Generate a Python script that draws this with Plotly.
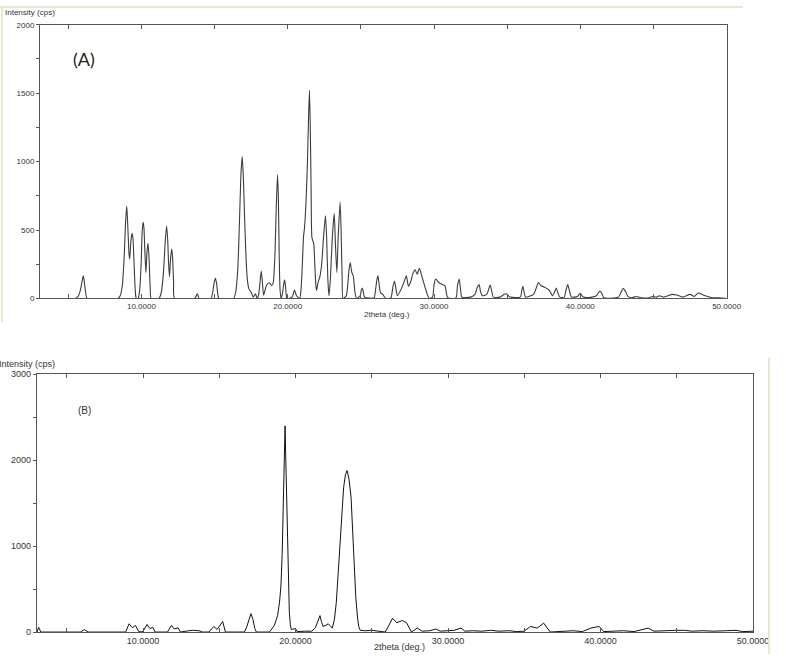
"""XRD patterns (A) and (B) — Plotly re-draw of two diffractometer screenshots."""

import plotly.graph_objects as go

W, H = 787, 659

# ---- pattern (A) : 2theta (deg.) / intensity (cps)
a_two_theta = [
    3.1, 5.5, 5.7, 5.85, 5.95, 6.03, 6.1, 6.18, 6.3,
    8.4, 8.55, 8.7, 8.82, 8.92, 9.0, 9.08, 9.15, 9.2, 9.28, 9.36, 9.42, 9.5, 9.58, 9.65,
    9.78, 9.88, 9.98, 10.05, 10.11, 10.17, 10.24, 10.31, 10.38, 10.45, 10.52, 10.6, 10.67,
    11.2, 11.35, 11.5, 11.62, 11.72, 11.8, 11.86, 11.92, 12.0, 12.07, 12.13, 12.2, 12.27,
    13.65, 13.75, 13.81, 13.88, 13.95, 14.75, 14.88, 14.98, 15.06, 15.14, 15.22, 15.3,
    16.3, 16.45, 16.58, 16.7, 16.8, 16.89, 16.97, 17.05, 17.15, 17.25, 17.35, 17.5, 17.65,
    17.8, 17.9, 18.0, 18.1, 18.19, 18.27, 18.35, 18.45, 18.55, 18.74, 18.9, 19.0, 19.12,
    19.2, 19.3, 19.36, 19.42, 19.48, 19.55, 19.65, 19.72, 19.79, 19.86, 19.95, 20.3, 20.46,
    20.6, 20.82, 20.92, 21.0, 21.08, 21.15, 21.25, 21.35, 21.43, 21.49, 21.55, 21.6, 21.65,
    21.72, 21.78, 21.85, 21.92, 21.97, 22.08, 22.2, 22.32, 22.45, 22.58, 22.66, 22.74, 22.82,
    22.92, 23.05, 23.18, 23.26, 23.36, 23.45, 23.58, 23.66, 23.72, 23.78, 24.0, 24.12, 24.2,
    24.28, 24.38, 24.48, 24.58, 24.7, 24.95, 25.03, 25.1, 25.18, 25.25, 25.9, 26.0, 26.1,
    26.17, 26.25, 26.35, 26.5, 26.7, 27.05, 27.18, 27.3, 27.4, 27.5, 27.77, 27.95, 28.11,
    28.25, 28.4, 28.55, 28.71, 28.85, 29.0, 29.2, 29.45, 29.67, 29.9, 30.0, 30.11, 30.33,
    30.51, 30.74, 30.94, 31.5, 31.6, 31.72, 31.82, 31.9, 32.5, 32.8, 32.95, 33.08, 33.18,
    33.3, 33.6, 33.84, 33.95, 34.05, 34.5, 34.8, 34.95, 35.2, 35.9, 36.0, 36.07, 36.15,
    36.25, 36.8, 37.0, 37.14, 37.3, 37.58, 37.9, 38.1, 38.25, 38.36, 38.47, 38.6, 38.9,
    39.02, 39.14, 39.27, 39.4, 39.8, 39.99, 40.2, 40.8, 41.1, 41.25, 41.37, 41.5, 41.6,
    42.6, 42.8, 42.94, 43.1, 43.25, 43.5, 43.83, 44.2, 44.7, 44.95, 45.2, 45.4, 45.7, 46.0,
    46.28, 46.6, 47.0, 47.5, 47.8, 48.06, 48.4, 48.7, 49.0, 49.5, 50.0,
]
a_intensity = [
    0, 0, 20, 70, 130, 165, 120, 50, 0,
    0, 20, 100, 300, 560, 676, 500, 330, 288, 420, 477, 440, 250, 60, 0,
    0, 60, 250, 480, 556, 520, 330, 190, 340, 403, 300, 80, 0,
    0, 40, 180, 400, 530, 420, 250, 160, 300, 362, 300, 120, 0,
    0, 20, 35, 20, 0, 0, 50, 120, 148, 110, 30, 0,
    0, 50, 200, 550, 900, 1036, 880, 600, 300, 130, 70, 45, 10,
    35, 0, 20, 110, 200, 120, 25, 60, 95, 115, 95, 110, 300,
    600, 904, 750, 300, 60, 0, 40, 100, 137, 80, 0, 10, 62,
    20, 0, 80, 250, 450, 520, 700, 1000, 1350, 1520, 1200, 800, 450,
    420, 400, 250, 100, 58, 120, 160, 250, 450, 604, 450, 150, 20,
    150, 450, 621, 400, 190, 450, 705, 450, 150, 0, 20, 120, 220,
    261, 190, 165, 60, 0, 20, 60, 77, 40, 10, 5, 60, 140,
    165, 100, 40, 30, 0, 5, 80, 128, 70, 20, 72, 120, 165,
    90, 120, 180, 209, 177, 221, 150, 60, 0, 10, 100, 142, 117,
    105, 94, 5, 5, 90, 142, 60, 10, 10, 30, 80, 101, 50,
    20, 30, 98, 50, 10, 10, 30, 34, 10, 10, 60, 89, 50,
    10, 30, 80, 117, 95, 81, 58, 20, 50, 77, 40, 10, 10,
    60, 101, 50, 10, 15, 38, 10, 10, 20, 45, 53, 30, 5,
    10, 50, 74, 50, 15, 5, 15, 5, 5, 15, 10, 20, 10, 20,
    30, 25, 10, 30, 15, 40, 25, 15, 5, 5, 0,
]

# ---- pattern (B)
b_two_theta = [
    3.05, 3.15, 3.3, 5.9, 6.15, 6.4, 8.86, 9.08, 9.3, 9.5, 9.7, 9.87, 10.0, 10.26, 10.45,
    10.64, 10.79, 11.6, 11.86, 12.05, 12.29, 12.45, 13.0, 13.3, 13.67, 13.9, 14.32, 14.64,
    14.85, 15.22, 15.4, 16.64, 16.8, 16.95, 17.07, 17.2, 17.33, 17.43, 18.29, 18.61, 18.82,
    18.95, 19.04, 19.12, 19.2, 19.27, 19.31, 19.36, 19.42, 19.46, 19.52, 19.59, 19.66,
    19.72, 20.0, 20.1, 20.6, 21.07, 21.3, 21.45, 21.6, 21.7, 21.8, 22.0, 22.14, 22.28,
    22.41, 22.55, 22.67, 22.8, 22.93, 23.05, 23.15, 23.27, 23.38, 23.5, 23.64, 23.75,
    23.85, 23.95, 24.07, 24.15, 24.24, 24.6, 25.0, 25.4, 25.88, 26.1, 26.36, 26.63, 27.0,
    27.28, 27.6, 27.98, 28.3, 28.8, 29.2, 29.5, 30.0, 30.4, 30.85, 31.1, 31.6, 32.2, 32.8,
    33.3, 34.0, 34.5, 34.98, 35.41, 35.84, 36.27, 36.7, 37.4, 38.2, 38.8, 39.37, 39.91,
    40.2, 40.8, 41.5, 42.2, 43.12, 43.5, 44.0, 44.94, 45.5, 46.0, 46.7, 47.4, 48.2, 48.89,
    49.3, 50.0,
]
b_intensity = [
    0, 55, 0, 0, 27, 0, 0, 96, 50, 77, 10, 0, 10, 88, 40,
    54, 0, 0, 77, 35, 50, 0, 15, 20, 15, 0, 0, 65,
    30, 122, 0, 0, 60, 160, 214, 150, 40, 0, 0, 77, 191,
    350, 535, 900, 1600, 2200, 2397, 2000, 1500, 1107, 600, 229, 80,
    30, 40, 5, 10, 10, 50, 120, 191, 120, 65, 80, 96, 70,
    46, 150, 343, 700, 1107, 1450, 1680, 1830, 1878, 1780, 1565, 1150,
    726, 400, 153, 60, 20, 15, 20, 10, 0, 70, 160, 108, 134,
    108, 0, 46, 10, 15, 35, 10, 15, 20, 46, 10, 15, 10, 20,
    10, 15, 5, 10, 65, 46, 103, 0, 10, 15, 5, 46, 65,
    5, 10, 15, 5, 46, 10, 15, 20, 20, 10, 15, 10, 15, 20,
    5, 10,
]

x_ticks = [5, 10, 15, 20, 25, 30, 35, 40, 45, 50]
x_tick_text = ["" if v % 10 else f"{v:.4f}" for v in x_ticks]
a_y_ticks = list(range(0, 2001, 250))
a_y_tick_text = [str(v) if v % 500 == 0 else "" for v in a_y_ticks]
b_y_ticks = list(range(0, 3001, 500))
b_y_tick_text = [str(v) if v % 1000 == 0 else "" for v in b_y_ticks]

AXIS_COLOR = "#555555"
FONT = "Liberation Sans, Arial, sans-serif"


def px_x(px):
    return px / W


def px_y(py):
    return 1 - py / H


def x_axis(domain, anchor, rng, size):
    return dict(
        domain=domain, anchor=anchor, range=rng, tickvals=x_ticks, ticktext=x_tick_text,
        ticks="inside", ticklen=4, tickcolor=AXIS_COLOR, mirror="ticks",
        showline=True, linecolor=AXIS_COLOR, linewidth=1.3, showgrid=False, zeroline=False,
        tickfont=dict(size=size, color="#333333", family=FONT),
    )


def y_axis(domain, anchor, rng, vals, text, size):
    return dict(
        domain=domain, anchor=anchor, range=rng, tickvals=vals, ticktext=text,
        ticks="outside", ticklen=3, tickcolor=AXIS_COLOR, mirror=True,
        showline=True, linecolor=AXIS_COLOR, linewidth=1.3, showgrid=False, zeroline=False,
        tickfont=dict(size=size, color="#333333", family=FONT),
    )


def right_ticks(overlay, anchor, rng, vals):
    # inward ticks on the right-hand frame
    return dict(
        overlaying=overlay, anchor=anchor, side="right", range=rng, tickvals=vals,
        ticks="inside", ticklen=3, tickcolor=AXIS_COLOR, showticklabels=False,
        showgrid=False, zeroline=False, showline=False,
    )


fig = go.Figure()
fig.add_trace(go.Scatter(
    x=a_two_theta, y=a_intensity, mode="lines", xaxis="x", yaxis="y",
    line=dict(color="#3c3c3c", width=1.1, shape="spline", smoothing=0.6), showlegend=False,
))
fig.add_trace(go.Scatter(
    x=b_two_theta, y=b_intensity, mode="lines", xaxis="x2", yaxis="y2",
    line=dict(color="#111111", width=1.0), showlegend=False,
))

a_xdom = [px_x(41), px_x(741.7)]
a_ydom = [px_y(298), px_y(20)]
b_xdom = [px_x(37.7), px_x(768.7)]
b_ydom = [px_y(636.7), px_y(374.7)]

# figure fills the browser window; everything is placed in paper fractions
fig.update_layout(
    autosize=True,
    margin=dict(l=0, r=0, t=0, b=0),
    paper_bgcolor="white", plot_bgcolor="white",
    font=dict(family=FONT, color="#333333"),
    xaxis=x_axis(a_xdom, "y", [3.08, 50], 8),
    yaxis=y_axis(a_ydom, "x", [0, 2000], a_y_ticks, a_y_tick_text, 8),
    xaxis2=x_axis(b_xdom, "y2", [3.04, 50], 9),
    yaxis2=y_axis(b_ydom, "x2", [0, 3000], b_y_ticks, b_y_tick_text, 9),
    yaxis3=right_ticks("y", "x", [0, 2000], a_y_ticks),
    yaxis4=right_ticks("y2", "x2", [0, 3000], b_y_ticks),
)

labels = [
    ("Intensity (cps)", 3, 8, 8, "#333333", FONT),
    ("2theta (deg.)", 370, 314, 8, "#333333", FONT),
    ("(A)", 72, 55, 18, "#222222", "Lato, Open Sans, sans-serif"),
    ("Intensity (cps)", -3, 365, 9, "#333333", FONT),
    ("2theta (deg.)", 380, 652, 9, "#333333", FONT),
    ("(B)", 78, 412, 10, "#333333", FONT),
]
for text, x, y, size, color, family in labels:
    fig.add_annotation(
        text=text, xref="paper", yref="paper", x=px_x(x), y=px_y(y),
        xanchor="left", yanchor="middle", showarrow=False,
        font=dict(size=size, color=color, family=family),
    )

# faint screenshot frames around the two captures
frame = dict(color="#e6e6d2", width=2)
fig.add_shape(type="line", xref="paper", yref="paper",
              x0=px_x(0), x1=px_x(758), y0=px_y(2), y1=px_y(2), line=frame)
fig.add_shape(type="line", xref="paper", yref="paper",
              x0=px_x(2), x1=px_x(2), y0=px_y(2), y1=px_y(322), line=frame)
fig.add_shape(type="line", xref="paper", yref="paper",
              x0=px_x(785), x1=px_x(785), y0=px_y(358), y1=px_y(659), line=frame)

# let the graph div take the whole viewport, then re-measure
page_fit = (
    "var gd=document.getElementById('{plot_id}');"
    "var r=document.documentElement,b=document.body;"
    "[r,b,gd.parentElement].forEach(function(e){"
    "e.style.margin='0';e.style.padding='0';e.style.height='100%';"
    "e.style.width='100%';e.style.overflow='hidden';});"
    "Plotly.Plots.resize(gd);"
)
fig.write_html(
    "out.html",
    config={"displayModeBar": False, "responsive": True},
    default_width="100%", default_height="100%",
    post_script=page_fit,
)
